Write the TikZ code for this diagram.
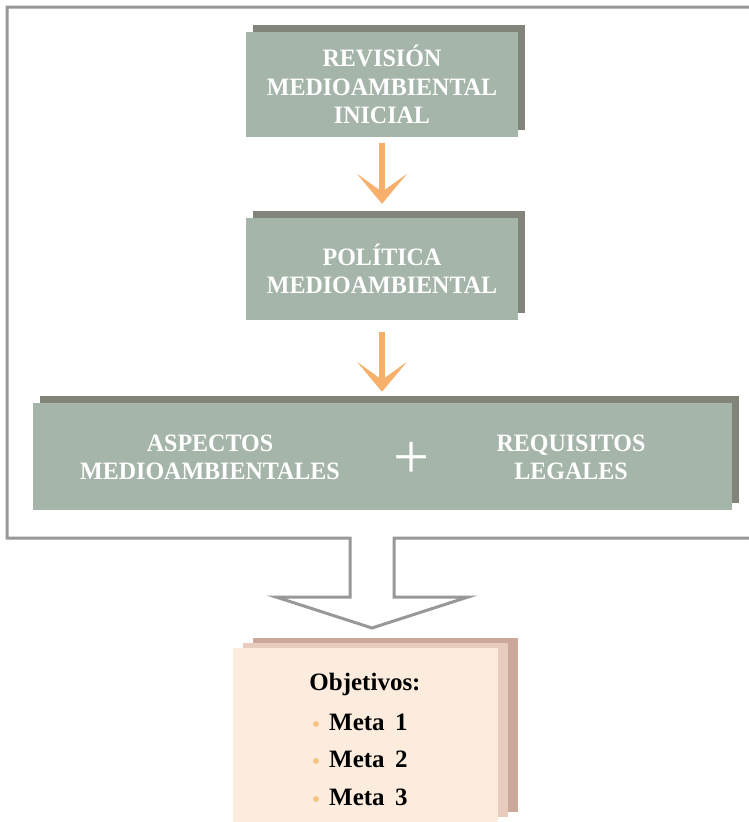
\documentclass[tikz,border=0pt]{standalone}
\usepackage{fontspec}
\setmainfont{Liberation Serif}
\newfontfamily\cajafont[FakeStretch=0.96]{Liberation Serif}
\usetikzlibrary{arrows.meta,shadows}

\definecolor{cajaverde}{RGB}{166,181,170}
\definecolor{cajasombra}{RGB}{128,132,121}
\definecolor{naranja}{RGB}{246,176,108}
\definecolor{grismarco}{RGB}{152,152,152}
\definecolor{tarjetaclara}{RGB}{252,236,222}
\definecolor{tarjetamedia}{RGB}{232,205,190}
\definecolor{tarjetaoscura}{RGB}{204,168,155}
\definecolor{puntonaranja}{RGB}{244,196,132}

\begin{document}
\begin{tikzpicture}[x=1pt,y=-1pt,
    caja/.style={fill=cajaverde, text=white, align=center, inner sep=0pt,
        font=\cajafont\bfseries\fontsize{25}{28.5}\selectfont,
        drop shadow={shadow xshift=7pt,shadow yshift=7pt,fill=cajasombra,opacity=1}},
    rotulo/.style={text=white, align=center, font=\cajafont\bfseries\fontsize{25}{28}\selectfont},
    flecha/.style={draw=naranja, line width=5.5pt,
        -{Stealth[length=30pt,width=50pt,inset=18pt]}},
    marco/.style={draw=grismarco, line width=3pt},
    tarjeta/.style={fill=tarjetaclara, inner sep=0pt,
        minimum width=265pt, minimum height=174pt,
        general shadow={shadow xshift=20pt,shadow yshift=10pt,fill=tarjetaoscura},
        general shadow={shadow xshift=10pt,shadow yshift=5pt,fill=tarjetamedia}},
    meta/.style={anchor=west, inner sep=0pt, font=\bfseries\fontsize{25}{28}\selectfont},
    punto/.style={circle, fill=puntonaranja, inner sep=0pt, minimum size=6pt}]
    \useasboundingbox[fill=white] (0,0) rectangle (748,822);

    % frame with the hollow arrow at the bottom
    \draw[marco] (752,7) -- (7,7) -- (7,538) -- (350,538) -- (350,597) -- (276,597)
        -- (372,628) -- (468,597) -- (394,597) -- (394,538) -- (752,538);

    \node[caja, minimum width=272pt, minimum height=105pt] (Revision) at (382,84.5)
        {REVISIÓN\\MEDIOAMBIENTAL\\INICIAL};
    \node[caja, minimum width=272pt, minimum height=102pt] (Politica) at (382,269)
        {POLÍTICA\\MEDIOAMBIENTAL};
    \node[caja, minimum width=699pt, minimum height=107pt] (Entrada) at (382,456.5) {};
    \node[rotulo] (Aspectos) at (210,457) {ASPECTOS\\MEDIOAMBIENTALES};
    \node[rotulo] (Requisitos) at (571,457) {REQUISITOS\\LEGALES};
    \node[text=white, inner sep=0pt, font=\fontsize{64}{64}\selectfont] (Mas) at (412,460) {+};

    \draw[flecha, shorten <=6pt, shorten >=14pt] (Revision) -- (Politica);
    \draw[flecha, shorten <=12pt, shorten >=11pt] (Politica) -- (Entrada);

    \node[tarjeta] (Tarjeta) at (365.5,735) {};
    \node[font=\bfseries\fontsize{25}{28}\selectfont] (Titulo) at (365,684) {Objetivos:};
    \node[meta] (Meta1) at (329,722) {Meta\ \,1};
    \node[meta] (Meta2) at (329,759) {Meta\ \,2};
    \node[meta] (Meta3) at (329,797) {Meta\ \,3};
    \node[punto] (P1) at (316,724) {};
    \node[punto] (P2) at (316,761) {};
    \node[punto] (P3) at (316,799) {};

\end{tikzpicture}
\end{document}
